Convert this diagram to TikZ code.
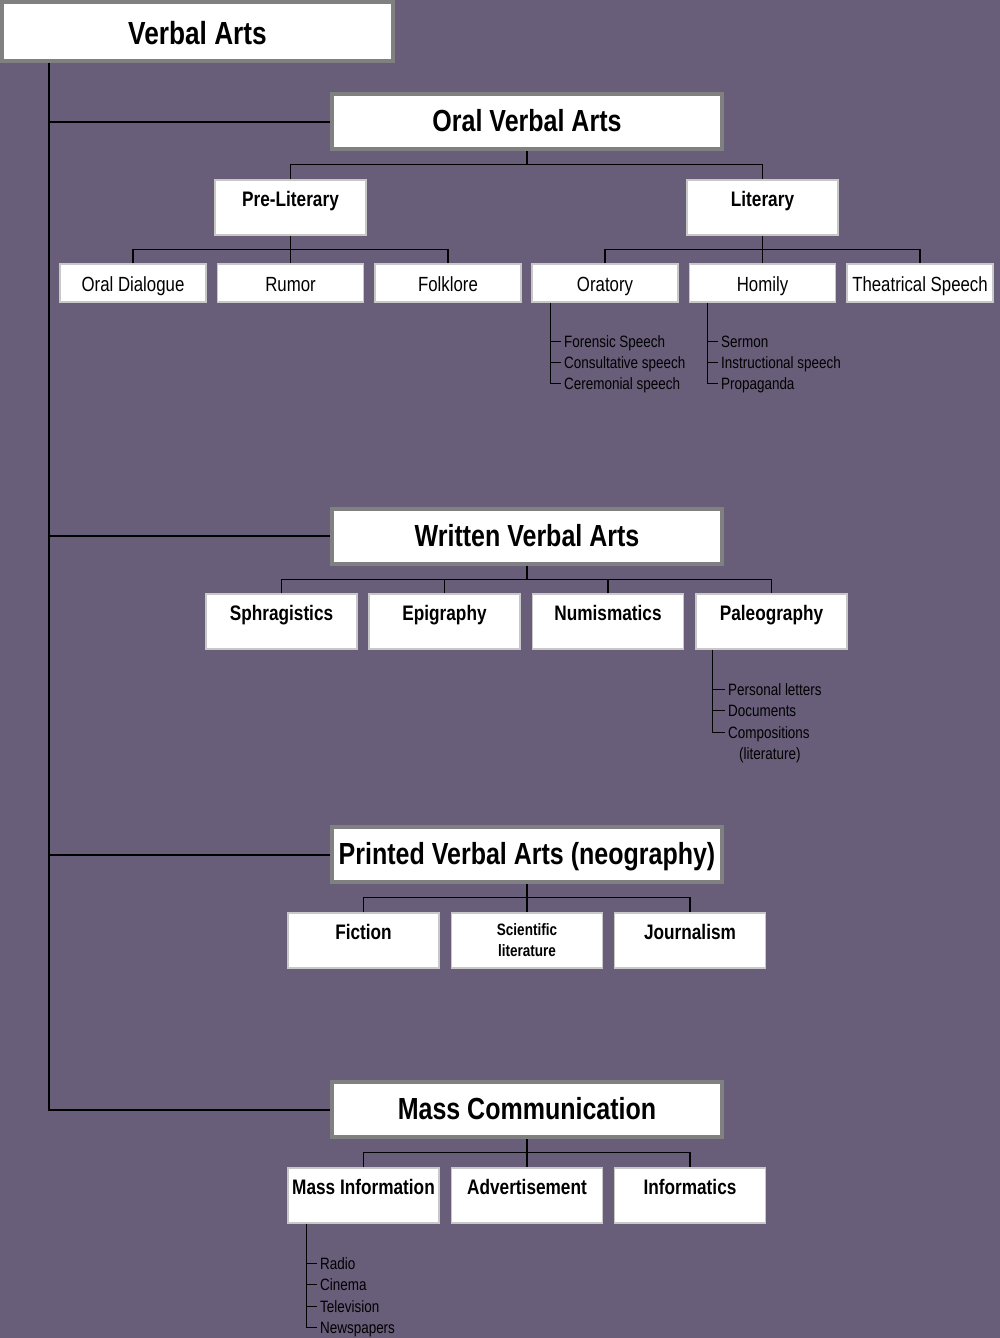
\documentclass[tikz,border=0pt]{standalone}
\usepackage{fontspec}
\setmainfont{Liberation Sans}[FakeStretch=0.82]
\definecolor{bg}{RGB}{104,94,122}
\definecolor{mgray}{RGB}{128,128,128}
\definecolor{lgray}{RGB}{200,200,200}
\begin{document}
\begin{tikzpicture}[x=1pt,y=-1pt,
  mainbox/.style={draw=mgray, line width=4pt, fill=white, inner sep=0pt,
    minimum width=390pt, minimum height=55pt, text height=23.5pt, text depth=3.5pt,
    font=\fontsize{30.5}{34}\selectfont\bfseries},
  lvltwo/.style={draw=lgray, line width=1.2pt, fill=white, inner sep=0pt,
    minimum width=151pt, minimum height=55pt, text height=26.5pt, text depth=28.5pt,
    font=\fontsize{21}{24}\selectfont\bfseries},
  lvltwoml/.style={draw=lgray, line width=1.2pt, fill=white, inner sep=0pt,
    minimum width=151pt, minimum height=55pt, align=center,
    font=\fontsize{16.5}{21}\selectfont\bfseries},
  lvlthree/.style={draw=lgray, line width=1.2pt, fill=white, inner sep=0pt,
    minimum width=146pt, minimum height=38pt, text height=18.7pt, text depth=1pt,
    font=\fontsize{20.5}{24}\selectfont},
  item/.style={anchor=west, inner xsep=3pt, inner ysep=0pt, text height=16.5pt,
    text depth=3.5pt, font=\fontsize{16.4}{18}\selectfont},
  trunk/.style={draw=black, line width=2pt},
  branch/.style={draw=black, line width=1.3pt},
  listline/.style={draw=black, line width=1pt}
]
\fill[bg] (0,0) rectangle (1000,1338);
\useasboundingbox (0,0) rectangle (1000,1338);

% root
\node[mainbox, minimum width=391pt, minimum height=59pt, text height=27pt, text depth=0pt,
  font=\fontsize{32}{36}\selectfont\bfseries] (va) at (197.5,31.5) {Verbal Arts};

% main categories
\node[mainbox] (ova) at (527,121.5) {Oral Verbal Arts};
\node[mainbox] (wva) at (527,536) {Written Verbal Arts};
\node[mainbox] (pva) at (527,854.5) {Printed Verbal Arts (neography)};
\node[mainbox] (mc) at (527,1109.5) {Mass Communication};

\coordinate (tk) at (49,0);
\draw[trunk] (va.south -| tk) |- (mc.west);
\draw[trunk] (tk |- ova.west) -- (ova.west);
\draw[trunk] (tk |- wva.west) -- (wva.west);
\draw[trunk] (tk |- pva.west) -- (pva.west);

% ---------- Oral ----------
\node[lvltwo] (pl) at (290.5,207.5) {Pre-Literary};
\node[lvltwo] (li) at (762.5,207.5) {Literary};
\draw[branch] (pl.north) -- ++(0,-15) -| (li.north);
\draw[branch] (ova.south) -- ([yshift=15pt]pl.north -| ova.south);

\node[lvlthree] (od) at (133,283) {Oral Dialogue};
\node[lvlthree] (ru) at (290.5,283) {Rumor};
\node[lvlthree] (fo) at (448,283) {Folklore};
\node[lvlthree] (or) at (605,283) {Oratory};
\node[lvlthree] (ho) at (762.5,283) {Homily};
\node[lvlthree] (ts) at (920,283) {Theatrical Speech};
\draw[branch] (od.north) -- ++(0,-14) -| (fo.north);
\draw[branch] (pl.south) -- (ru.north);
\draw[branch] (or.north) -- ++(0,-14) -| (ts.north);
\draw[branch] (li.south) -- (ho.north);

% Oratory list
\coordinate (orl) at ([xshift=19pt]or.south west);
\node[item] (o1) at (561,341) {Forensic Speech};
\node[item] (o2) at (561,362) {Consultative speech};
\node[item] (o3) at (561,383) {Ceremonial speech};
\draw[listline] (orl) |- (o3.west);
\draw[listline] (orl |- o1.west) -- (o1.west);
\draw[listline] (orl |- o2.west) -- (o2.west);

% Homily list
\coordinate (hol) at ([xshift=19pt]ho.south west);
\node[item] (h1) at (718,341) {Sermon};
\node[item] (h2) at (718,362) {Instructional speech};
\node[item] (h3) at (718,383) {Propaganda};
\draw[listline] (hol) |- (h3.west);
\draw[listline] (hol |- h1.west) -- (h1.west);
\draw[listline] (hol |- h2.west) -- (h2.west);

% ---------- Written ----------
\node[lvltwo] (sp) at (281.5,621.5) {Sphragistics};
\node[lvltwo] (ep) at (444.5,621.5) {Epigraphy};
\node[lvltwo] (nu) at (608,621.5) {Numismatics};
\node[lvltwo] (pa) at (771.5,621.5) {Paleography};
\draw[branch] (sp.north) -- ++(0,-14) -| (pa.north);
\draw[branch] (ep.north) -- ++(0,-14);
\draw[branch] (nu.north) -- ++(0,-14);
\draw[branch] (wva.south) -- ([yshift=14pt]sp.north -| wva.south);

\coordinate (pal) at ([xshift=17pt]pa.south west);
\node[item] (p1) at (725,689) {Personal letters};
\node[item] (p2) at (725,710) {Documents};
\node[item] (p3) at (725,732) {Compositions};
\node[item] (p4) at (736,753) {(literature)};
\draw[listline] (pal) |- (p3.west);
\draw[listline] (pal |- p1.west) -- (p1.west);
\draw[listline] (pal |- p2.west) -- (p2.west);

% ---------- Printed ----------
\node[lvltwo] (fi) at (363.5,940.5) {Fiction};
\node[lvltwoml] (sl) at (527,940.5) {Scientific\\literature};
\node[lvltwo] (jo) at (690,940.5) {Journalism};
\draw[branch] (fi.north) -- ++(0,-15) -| (jo.north);
\draw[branch] (pva.south) -- (sl.north);

% ---------- Mass Communication ----------
\node[lvltwo] (mi) at (363.5,1195.5) {Mass Information};
\node[lvltwo] (ad) at (527,1195.5) {Advertisement};
\node[lvltwo] (in) at (690,1195.5) {Informatics};
\draw[branch] (mi.north) -- ++(0,-15) -| (in.north);
\draw[branch] (mc.south) -- (ad.north);

\coordinate (mil) at ([xshift=19pt]mi.south west);
\node[item] (m1) at (317,1263) {Radio};
\node[item] (m2) at (317,1284) {Cinema};
\node[item] (m3) at (317,1306) {Television};
\node[item] (m4) at (317,1327) {Newspapers};
\draw[listline] (mil) |- (m4.west);
\draw[listline] (mil |- m1.west) -- (m1.west);
\draw[listline] (mil |- m2.west) -- (m2.west);
\draw[listline] (mil |- m3.west) -- (m3.west);
\end{tikzpicture}
\end{document}
